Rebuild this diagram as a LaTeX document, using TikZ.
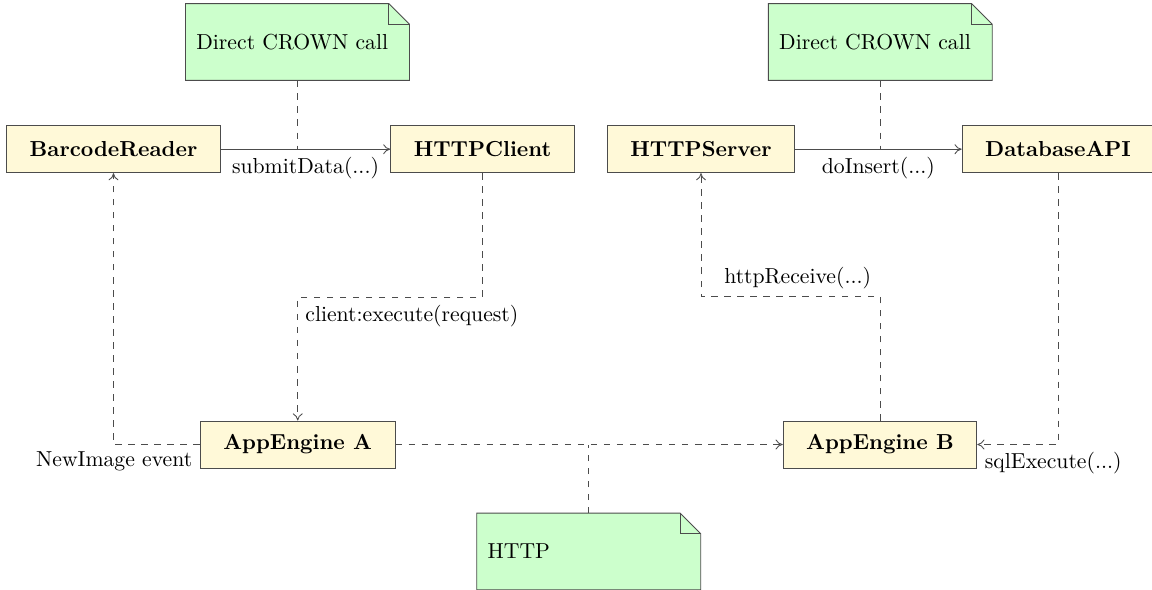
\documentclass[tikz,border=0pt]{standalone}
\usetikzlibrary{backgrounds,calc,arrows.meta}

\definecolor{classfill}{RGB}{255,249,216}
\definecolor{notefill}{RGB}{204,255,204}
\definecolor{linecol}{gray}{0.3}

\tikzset{
  classbox/.style={draw=linecol, fill=classfill, font=\bfseries,
    minimum height=21.7pt, inner xsep=10.6pt},
  notebox/.style={minimum width=102.8pt, minimum height=35pt,
    text width=93.2pt, inner xsep=4.8pt, align=left},
  opentip/.style={-{To[length=3.3pt, width=4.6pt]}},
  call/.style={draw=linecol, opentip},
  dep/.style={draw=linecol, dashed, opentip},
  anchorline/.style={draw=linecol, dashed},
}

% fill and outline of a note node, with its folded top-right corner
\newcommand{\dogear}[1]{%
  \begin{pgfonlayer}{background}
    \filldraw[fill=notefill, draw=linecol]
      (#1.north west) -- ([xshift=-9.5pt]#1.north east)
      -- ([yshift=-9.5pt]#1.north east) -- (#1.south east)
      -- (#1.south west) -- cycle;
    \draw[linecol] ([xshift=-9.5pt]#1.north east) |- ([yshift=-9.5pt]#1.north east);
  \end{pgfonlayer}}

\begin{document}
\begin{tikzpicture}[x=0.4608pt, y=-0.4608pt]
  \useasboundingbox (0,0) rectangle (1152,589);
  \clip (0,0) rectangle (1152,589);

  % components
  \node[classbox] (br)  at (113.5,149.2) {BarcodeReader};
  \node[classbox] (hc)  at (482.5,149.2) {HTTPClient};
  \node[classbox] (hs)  at (701,149.2)   {HTTPServer};
  \node[classbox] (db)  at (1058,149.2)  {DatabaseAPI};
  \node[classbox] (aea) at (297.7,444.5) {AppEngine A};
  \node[classbox] (aeb) at (880,444.5)   {AppEngine B};

  % notes
  \node[notebox] (n1) at (297.5,42)    {Direct CROWN call};
  \node[notebox] (n2) at (880.3,42)    {Direct CROWN call};
  \node[notebox] (n3) at (588.7,551.5) {HTTP};
  \dogear{n1}
  \dogear{n2}
  \dogear{n3}

  % direct calls
  \draw[call] (br) -- node[below] {submitData(...)} (hc);
  \draw[call] (hs) -- node[below] {doInsert(...)} (db);
  \draw[anchorline] (n1.south) -- (n1.south |- br.east);
  \draw[anchorline] (n2.south) -- (n2.south |- hs.east);

  % asynchronous flows
  \draw[dep] (hc.south) -- ++(0,124)
    -| node[pos=0.5, below right] {client:execute(request)} (aea.north);
  \draw[dep] (aea.west) -| node[pos=0, below left] {NewImage event} (br.south);
  \draw[dep] (aea) -- (aeb);
  \draw[dep] (aeb.north) -- ++(0,-124.3)
    -| node[pos=0.23, above] {httpReceive(...)} (hs.south);
  \draw[dep] (db.south) |- node[pos=1, below right] {sqlExecute(...)} (aeb.east);
  \draw[anchorline] (n3.north) -- (n3.north |- aea.east);
\end{tikzpicture}
\end{document}
